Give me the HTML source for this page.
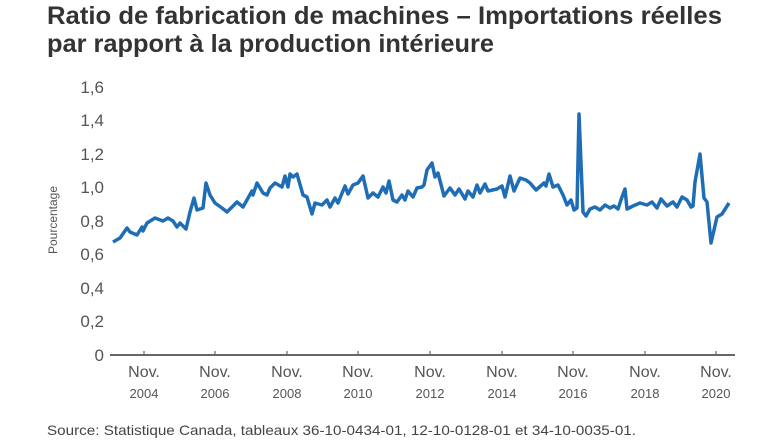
<!DOCTYPE html>
<html><head><meta charset="utf-8"><style>
body{margin:0;background:#fff;width:780px;height:439px;overflow:hidden;font-family:"Liberation Sans",sans-serif;}
</style></head><body>
<svg width="780" height="439" xmlns="http://www.w3.org/2000/svg" font-family="Liberation Sans, sans-serif">
<text x="47" y="24" font-size="25" font-weight="bold" fill="#333" textLength="675" lengthAdjust="spacingAndGlyphs">Ratio de fabrication de machines – Importations réelles</text>
<text x="47" y="52" font-size="25" font-weight="bold" fill="#333" textLength="447" lengthAdjust="spacingAndGlyphs">par rapport à la production intérieure</text>
<g font-size="17" fill="#555" text-anchor="end">
<text x="104" y="361">0</text><text x="104" y="327">0,2</text><text x="104" y="294">0,4</text>
<text x="104" y="260">0,6</text><text x="104" y="227">0,8</text><text x="104" y="193">1,0</text>
<text x="104" y="160">1,2</text><text x="104" y="126">1,4</text><text x="104" y="93">1,6</text>
</g>
<text transform="translate(57,220) rotate(-90)" font-size="12" fill="#555" text-anchor="middle">Pourcentage</text>
<line x1="110" y1="355" x2="735" y2="355" stroke="#666" stroke-width="2"/>
<g stroke="#666" stroke-width="1.2">
<line x1="144" y1="351" x2="144" y2="355"/><line x1="215" y1="351" x2="215" y2="355"/><line x1="287" y1="351" x2="287" y2="355"/>
<line x1="358" y1="351" x2="358" y2="355"/><line x1="430" y1="351" x2="430" y2="355"/><line x1="502" y1="351" x2="502" y2="355"/>
<line x1="573" y1="351" x2="573" y2="355"/><line x1="645" y1="351" x2="645" y2="355"/><line x1="716" y1="351" x2="716" y2="355"/>
</g>
<g fill="#555" text-anchor="middle">
<g font-size="16"><text x="144" y="377">Nov.</text><text x="215" y="377">Nov.</text><text x="287" y="377">Nov.</text><text x="358" y="377">Nov.</text><text x="430" y="377">Nov.</text><text x="502" y="377">Nov.</text><text x="573" y="377">Nov.</text><text x="645" y="377">Nov.</text><text x="716" y="377">Nov.</text></g>
<g font-size="13"><text x="144" y="398">2004</text><text x="215" y="398">2006</text><text x="287" y="398">2008</text><text x="358" y="398">2010</text><text x="430" y="398">2012</text><text x="502" y="398">2014</text><text x="573" y="398">2016</text><text x="645" y="398">2018</text><text x="716" y="398">2020</text></g>
</g>
<polyline fill="none" stroke="#1f6db5" stroke-width="3.5" stroke-linejoin="round" points="113,242 120,238 127,228 130,232 137,235 142,227 143,231 147,223 155,218 163,221 168,218 173,221 177,227 180,223 186,229 190,212 194,198 197,210 203,208 206,183 210,195 215,203 222,208 227,212 232,207 237,202 243,207 252,191 253,195 257,183 263,193 267,195 270,188 275,183 282,187 285,176 288,187 290,174 293,177 297,174 303,195 307,197 312,214 315,203 322,205 327,200 330,207 335,198 338,203 345,186 348,194 353,185 358,183 363,176 368,198 373,193 378,197 383,187 386,193 389,181 393,200 397,202 402,195 405,200 408,191 413,197 417,188 422,187 424,185 427,170 432,163 435,177 438,173 444,196 450,188 455,195 459,189 465,199 468,191 473,197 477,185 480,193 485,184 488,191 497,189 502,186 505,197 510,176 514,191 520,178 526,180 530,183 536,190 544,183 546,186 549,174 553,187 558,185 563,195 567,205 571,200 574,210 577,208 579,114 583,212 586,216 590,209 595,207 600,210 605,205 610,208 614,206 618,209 622,197 625,189 627,209 633,206 640,203 647,205 652,202 657,208 661,199 667,206 673,202 677,207 682,197 687,200 691,207 693,206 695,182 700,154 704,198 707,202 711,243 717,217 722,214 729,203"/>
<text x="47" y="435" font-size="14" fill="#444" textLength="589" lengthAdjust="spacingAndGlyphs">Source: Statistique Canada, tableaux 36-10-0434-01, 12-10-0128-01 et 34-10-0035-01.</text>
</svg>
</body></html>
